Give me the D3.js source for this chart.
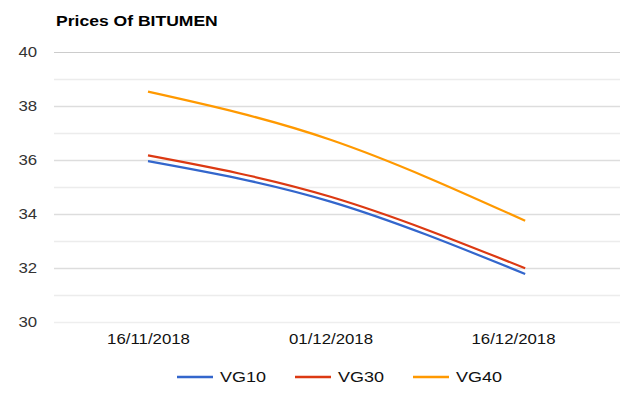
<!DOCTYPE html>
<html>
<head>
<meta charset="utf-8">
<script src="https://cdn.jsdelivr.net/npm/d3@7"></script>
<style>
  body { margin: 0; background: #fff; }
  svg { font-family: "Liberation Sans", Arial, sans-serif; }
</style>
</head>
<body>
<svg id="chart" width="620" height="401"></svg>
<script>
// data
const dates = ["2018-11-16", "2018-12-01", "2018-12-17"];
const vg10 = [35.96, 34.46, 31.78];
const vg30 = [36.17, 34.64, 31.99];
const vg40 = [38.53, 36.75, 33.75];
const seriesNames = ["VG10", "VG30", "VG40"];
const seriesColors = ["#3366cc", "#dc3912", "#ff9900"];
const yTicks = [30, 32, 34, 36, 38, 40];
const yMinorTicks = [31, 33, 35, 37, 39];
const xTicks = ["2018-11-16", "2018-12-01", "2018-12-16"];

const parse = d3.timeParse("%Y-%m-%d");
const series = [vg10, vg30, vg40].map((vals, i) => ({
    name: seriesNames[i],
    color: seriesColors[i],
    values: vals.map((v, j) => ({ date: parse(dates[j]), value: v }))
}));

const svg = d3.select("#chart");
const plotLeft = 54, plotRight = 620, plotTop = 52, plotBottom = 322;
const stretch = 1.2; // text in the reference is a bit wide

const x = d3.scaleTime()
    .domain([parse("2018-11-16"), parse("2018-12-16")])
    .range([148, 513]);
const y = d3.scaleLinear().domain([30, 40]).range([plotBottom, plotTop]);

// title
svg.append("text")
    .attr("transform", `translate(56,26) scale(1.17,1)`)
    .attr("font-size", "15px")
    .attr("font-weight", "bold")
    .attr("fill", "#000")
    .text("Prices Of BITUMEN");

// minor gridlines
svg.append("g")
    .attr("transform", `translate(${plotLeft},0)`)
    .call(d3.axisLeft(y).tickValues(yMinorTicks).tickSize(-(plotRight - plotLeft)).tickFormat(""))
    .call(g => g.select(".domain").remove())
    .call(g => g.selectAll("line").attr("stroke", "#ececec").attr("stroke-width", 1.5));

// major gridlines + labels
svg.append("g")
    .attr("transform", `translate(${plotLeft},0)`)
    .call(d3.axisLeft(y).tickValues(yTicks).tickSize(-(plotRight - plotLeft)).tickPadding(14))
    .call(g => g.select(".domain").remove())
    .call(g => g.selectAll("line")
        .attr("stroke", d => d === 40 ? "#cccccc" : (d === 30 ? "#eeeeee" : "#dddddd"))
        .attr("stroke-width", d => d === 40 ? 1 : 1.6))
    .call(g => g.selectAll("text")
        .attr("font-size", "14px")
        .attr("fill", "#333")
        .attr("font-family", "Liberation Sans, Arial, sans-serif")
        .attr("transform", `scale(${stretch},1)`));

// x axis labels
svg.append("g")
    .attr("transform", `translate(0,${plotBottom})`)
    .call(d3.axisBottom(x).tickValues(xTicks.map(parse)).tickSize(0)
        .tickFormat(d3.timeFormat("%d/%m/%Y")))
    .call(g => g.select(".domain").remove())
    .call(g => g.selectAll("text")
        .attr("y", 22)
        .attr("dy", 0)
        .attr("font-size", "14px")
        .attr("fill", "#111")
        .attr("font-family", "Liberation Sans, Arial, sans-serif")
        .attr("transform", `scale(${stretch},1)`));

// lines
const line = d3.line()
    .x(d => x(d.date))
    .y(d => y(d.value))
    .curve(d3.curveNatural);

svg.selectAll("path.series")
    .data(series)
    .enter()
    .append("path")
    .attr("class", "series")
    .attr("d", d => line(d.values))
    .attr("fill", "none")
    .attr("stroke", d => d.color)
    .attr("stroke-width", 2.2);

// legend
const legend = svg.selectAll("g.legend")
    .data(series)
    .enter()
    .append("g")
    .attr("class", "legend")
    .attr("transform", (d, i) => `translate(${177 + i * 118},377)`);
legend.append("line")
    .attr("x1", 0).attr("x2", 36)
    .attr("stroke", d => d.color)
    .attr("stroke-width", 2.5);
legend.append("text")
    .attr("transform", `translate(43,5) scale(${stretch},1)`)
    .attr("font-size", "15px")
    .attr("fill", "#111")
    .text(d => d.name);
</script>
</body>
</html>
